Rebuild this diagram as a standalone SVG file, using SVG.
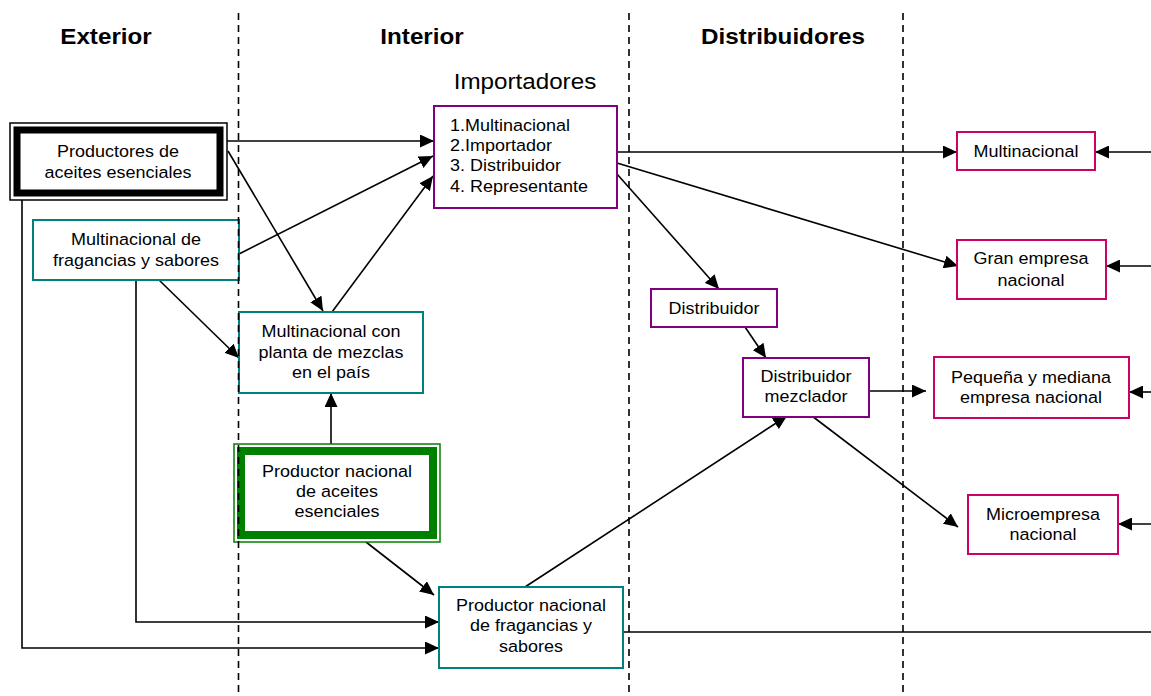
<svg xmlns="http://www.w3.org/2000/svg" width="1151" height="696" viewBox="0 0 1151 696">
<style>
  .t { font-family: "Liberation Sans", Arial, sans-serif; font-size: 16.5px; fill: #000; text-anchor: middle; transform-box: fill-box; transform-origin: center; transform: scaleX(1.09); }
  .tl { text-anchor: start; transform-origin: left center; }
  .h { font-family: "Liberation Sans", Arial, sans-serif; font-size: 22px; font-weight: bold; fill: #000; text-anchor: middle; transform-box: fill-box; transform-origin: center; transform: scaleX(1.1); }
  .imp { font-weight: normal; }
  .teal { fill: #fff; stroke: #008080; stroke-width: 2; }
  .purple { fill: #fff; stroke: #800080; stroke-width: 2; }
  .pink { fill: #fff; stroke: #CC0066; stroke-width: 2; }
  .conn { fill: none; stroke: #000; stroke-width: 1.6; }
  .arr { marker-end: url(#ah); }
  .dash { stroke: #000; stroke-width: 1.6; stroke-dasharray: 7 5; fill: none; }
</style>
<defs>
  <marker id="ah" viewBox="0 0 14 13" refX="14" refY="6.5" markerWidth="14" markerHeight="13" markerUnits="userSpaceOnUse" orient="auto">
    <path d="M0,0 L14,6.5 L0,13 z" fill="#000"/>
  </marker>
</defs>
<rect x="0" y="0" width="1151" height="696" fill="#fff"/>

<g id="headers">
  <text class="h" x="106" y="44">Exterior</text>
  <text class="h" x="422" y="44">Interior</text>
  <text class="h" x="783" y="44">Distribuidores</text>
  <text class="h imp" x="525" y="89">Importadores</text>
</g>

<g id="connectors">
  <path class="conn arr" d="M227,141 H434"/>
  <path class="conn arr" d="M228,151 L323,311"/>
  <path class="conn arr" d="M239,254 L433,156"/>
  <path class="conn arr" d="M332,312 L433,176"/>
  <path class="conn arr" d="M159,280 L239,358"/>
  <path class="conn arr" d="M331,444 V393"/>
  <path class="conn arr" d="M366,542 L434,595"/>
  <path class="conn arr" d="M136,280 V622 H439"/>
  <path class="conn arr" d="M22,200 V648 H439"/>
  <path class="conn arr" d="M525,587 L787,416"/>
  <path class="conn" d="M623,632 H1151"/>
  <path class="conn arr" d="M617,152 H957"/>
  <path class="conn arr" d="M617,163 L958,266"/>
  <path class="conn arr" d="M617,174 L719,289"/>
  <path class="conn arr" d="M743,324 L766,358"/>
  <path class="conn arr" d="M869,391 H926"/>
  <path class="conn arr" d="M812,416 L958,527"/>
  <path class="conn arr" d="M1151,152 H1095"/>
  <path class="conn arr" d="M1151,266 H1106"/>
  <path class="conn arr" d="M1151,392 H1129"/>
  <path class="conn arr" d="M1151,524 H1118"/>
</g>

<g id="productores">
  <rect x="10" y="123" width="217" height="77" fill="#fff" stroke="#000" stroke-width="1.5"/>
  <rect x="17" y="130" width="203" height="63" fill="#fff" stroke="#000" stroke-width="7"/>
  <text class="t" x="118" y="157">Productores de</text>
  <text class="t" x="118" y="178">aceites esenciales</text>
</g>

<g id="multinacional-fragancias">
  <rect class="teal" x="33" y="220" width="206" height="60"/>
  <text class="t" x="136" y="245">Multinacional de</text>
  <text class="t" x="136" y="266">fragancias y sabores</text>
</g>

<g id="multinacional-planta">
  <rect class="teal" x="239" y="312" width="184" height="81"/>
  <text class="t" x="331" y="337">Multinacional con</text>
  <text class="t" x="331" y="358">planta de mezclas</text>
  <text class="t" x="331" y="378">en el país</text>
</g>

<g id="productor-nacional-aceites">
  <rect x="234" y="444" width="206" height="98" fill="#fff" stroke="#008000" stroke-width="1.5"/>
  <rect x="241" y="451" width="192" height="84" fill="#fff" stroke="#008000" stroke-width="8"/>
  <text class="t" x="337" y="477">Productor nacional</text>
  <text class="t" x="337" y="497">de aceites</text>
  <text class="t" x="337" y="517">esenciales</text>
</g>

<g id="productor-nacional-fragancias">
  <rect class="teal" x="439" y="587" width="184" height="81"/>
  <text class="t" x="531" y="611">Productor nacional</text>
  <text class="t" x="531" y="631">de fragancias y</text>
  <text class="t" x="531" y="652">sabores</text>
</g>

<g id="importadores">
  <rect class="purple" x="434" y="106" width="183" height="102"/>
  <text class="t tl" x="450" y="131">1.Multinacional</text>
  <text class="t tl" x="450" y="151">2.Importador</text>
  <text class="t tl" x="450" y="171">3. Distribuidor</text>
  <text class="t tl" x="450" y="192">4. Representante</text>
</g>

<g id="distribuidor">
  <rect class="purple" x="651" y="289" width="126" height="38"/>
  <text class="t" x="714" y="314">Distribuidor</text>
</g>

<g id="distribuidor-mezclador">
  <rect class="purple" x="743" y="358" width="126" height="59"/>
  <text class="t" x="806" y="382">Distribuidor</text>
  <text class="t" x="806" y="402">mezclador</text>
</g>

<g id="multinacional-dest">
  <rect class="pink" x="957" y="132" width="138" height="38"/>
  <text class="t" x="1026" y="157">Multinacional</text>
</g>

<g id="gran-empresa">
  <rect class="pink" x="957" y="240" width="149" height="59"/>
  <text class="t" x="1031" y="264">Gran empresa</text>
  <text class="t" x="1031" y="286">nacional</text>
</g>

<g id="pequena-mediana">
  <rect class="pink" x="934" y="357" width="195" height="61"/>
  <text class="t" x="1031" y="383">Pequeña y mediana</text>
  <text class="t" x="1031" y="403">empresa nacional</text>
</g>

<g id="microempresa">
  <rect class="pink" x="968" y="495" width="150" height="59"/>
  <text class="t" x="1043" y="520">Microempresa</text>
  <text class="t" x="1043" y="540">nacional</text>
</g>

<g id="dividers">
  <path class="dash" d="M238.5,13 V696"/>
  <path class="dash" d="M629,13 V696"/>
  <path class="dash" d="M903,13 V696"/>
</g>
</svg>
